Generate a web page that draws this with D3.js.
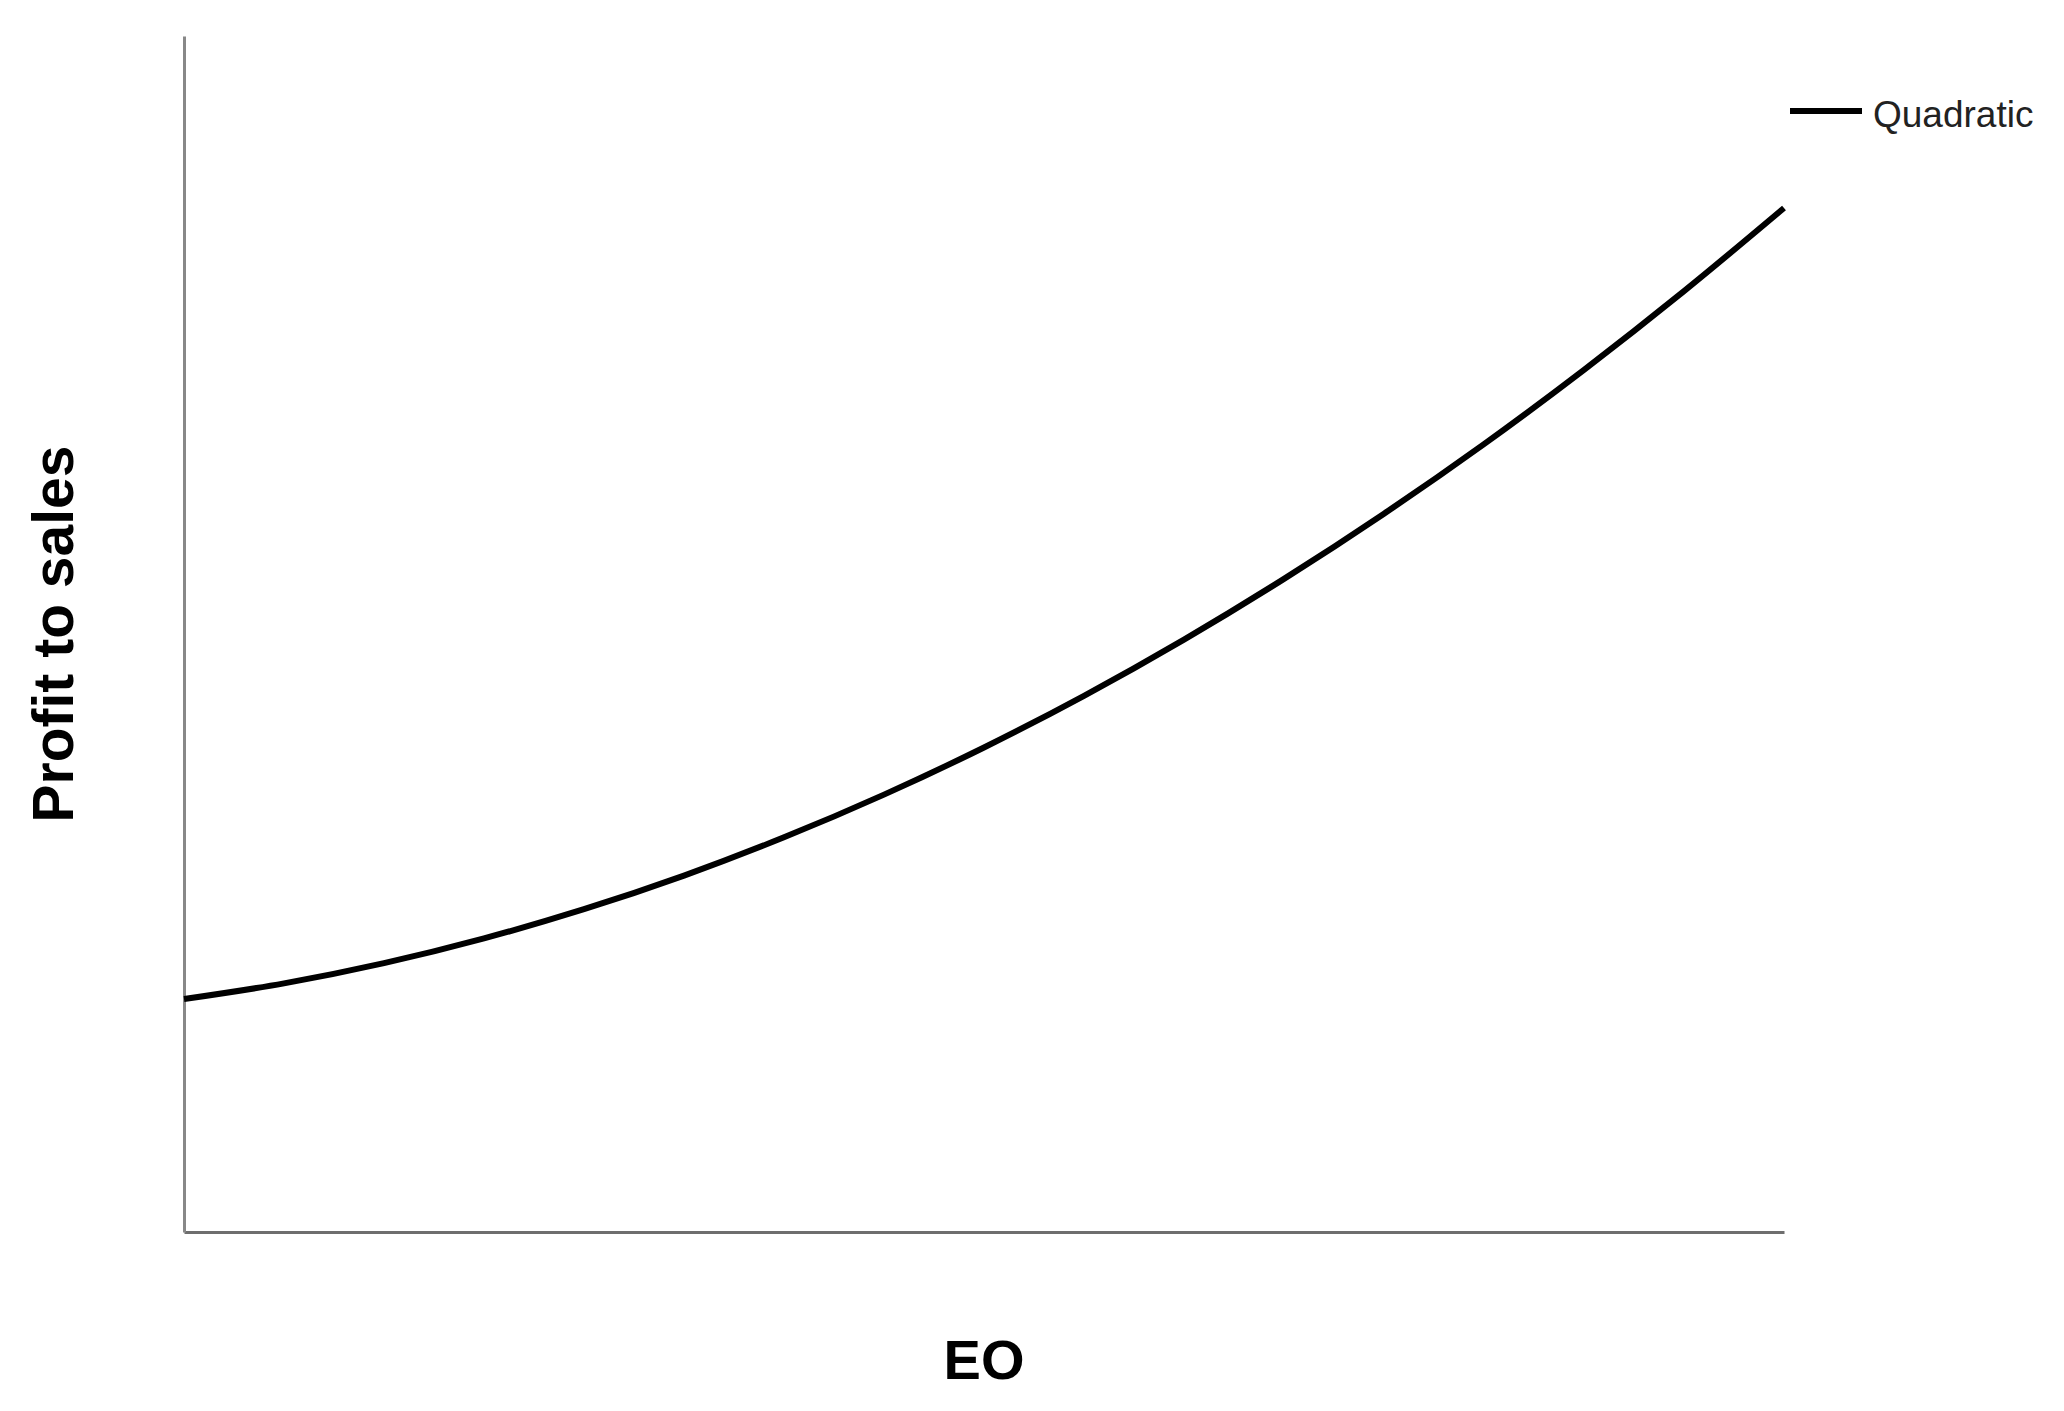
<!DOCTYPE html>
<html>
<head>
<meta charset="utf-8">
<script src="https://cdn.jsdelivr.net/npm/d3@7"></script>
<style>
  body { margin: 0; background: #fff; }
  svg { display: block; }
</style>
</head>
<body>
<div id="chart"></div>
<script>
// values (axis has no ticks, so units are arbitrary)
var eoValues = [1, 1.25, 1.5, 1.75, 2, 2.25, 2.5, 2.75, 3, 3.25, 3.5, 3.75, 4, 4.25, 4.5, 4.75, 5];
var profitValues = [1.948, 2.079, 2.248, 2.455, 2.699, 2.980, 3.300, 3.657, 4.051,
                    4.483, 4.953, 5.461, 6.006, 6.588, 7.209, 7.867, 8.562];
var seriesNames = ["Quadratic"];
var xTitle = "EO";
var yTitle = "Profit to sales";

var width = 2064, height = 1411;
var margin = {top: 36, right: 280, bottom: 179, left: 184};

var svg = d3.select("#chart")
    .append("svg")
    .attr("width", width)
    .attr("height", height);

var x = d3.scaleLinear()
    .domain([1, 5])
    .range([margin.left, width - margin.right]);

var y = d3.scaleLinear()
    .domain([0, 10])
    .range([height - margin.bottom, margin.top]);

var points = eoValues.map(function (d, i) {
    return {eo: d, profit: profitValues[i]};
});

// axes: plain lines, no ticks
svg.append("g")
    .attr("transform", "translate(0," + y(0) + ")")
    .call(d3.axisBottom(x).tickValues([]).tickSizeOuter(0))
    .select(".domain")
    .attr("stroke", "#6e6e6e")
    .attr("stroke-width", 3);

svg.append("g")
    .attr("transform", "translate(" + x(1) + ",0)")
    .call(d3.axisLeft(y).tickValues([]).tickSizeOuter(0))
    .select(".domain")
    .attr("stroke", "#888")
    .attr("stroke-width", 3);

var line = d3.line()
    .x(function (d) { return x(d.eo); })
    .y(function (d) { return y(d.profit); })
    .curve(d3.curveMonotoneX);

svg.append("path")
    .datum(points)
    .attr("fill", "none")
    .attr("stroke", "#000")
    .attr("stroke-width", 6)
    .attr("d", line);

// legend
var legend = svg.append("g")
    .attr("transform", "translate(1790,111)");

legend.append("line")
    .attr("x1", 0)
    .attr("x2", 72)
    .attr("stroke", "#000")
    .attr("stroke-width", 6);

legend.append("text")
    .attr("x", 83)
    .attr("y", 16)
    .attr("font-family", "Liberation Sans, Arial, sans-serif")
    .attr("font-size", 37)
    .attr("fill", "#222")
    .text(seriesNames[0]);

// axis titles
svg.append("text")
    .attr("x", (x(1) + x(5)) / 2)
    .attr("y", 1379)
    .attr("text-anchor", "middle")
    .attr("font-family", "Liberation Sans, Arial, sans-serif")
    .attr("font-weight", "bold")
    .attr("font-size", 56)
    .text(xTitle);

svg.append("text")
    .attr("transform", "translate(73," + (y(0) + y(10)) / 2 + ") rotate(-90)")
    .attr("text-anchor", "middle")
    .attr("font-family", "Liberation Sans, Arial, sans-serif")
    .attr("font-weight", "bold")
    .attr("font-size", 57)
    .text(yTitle);
</script>
</body>
</html>
